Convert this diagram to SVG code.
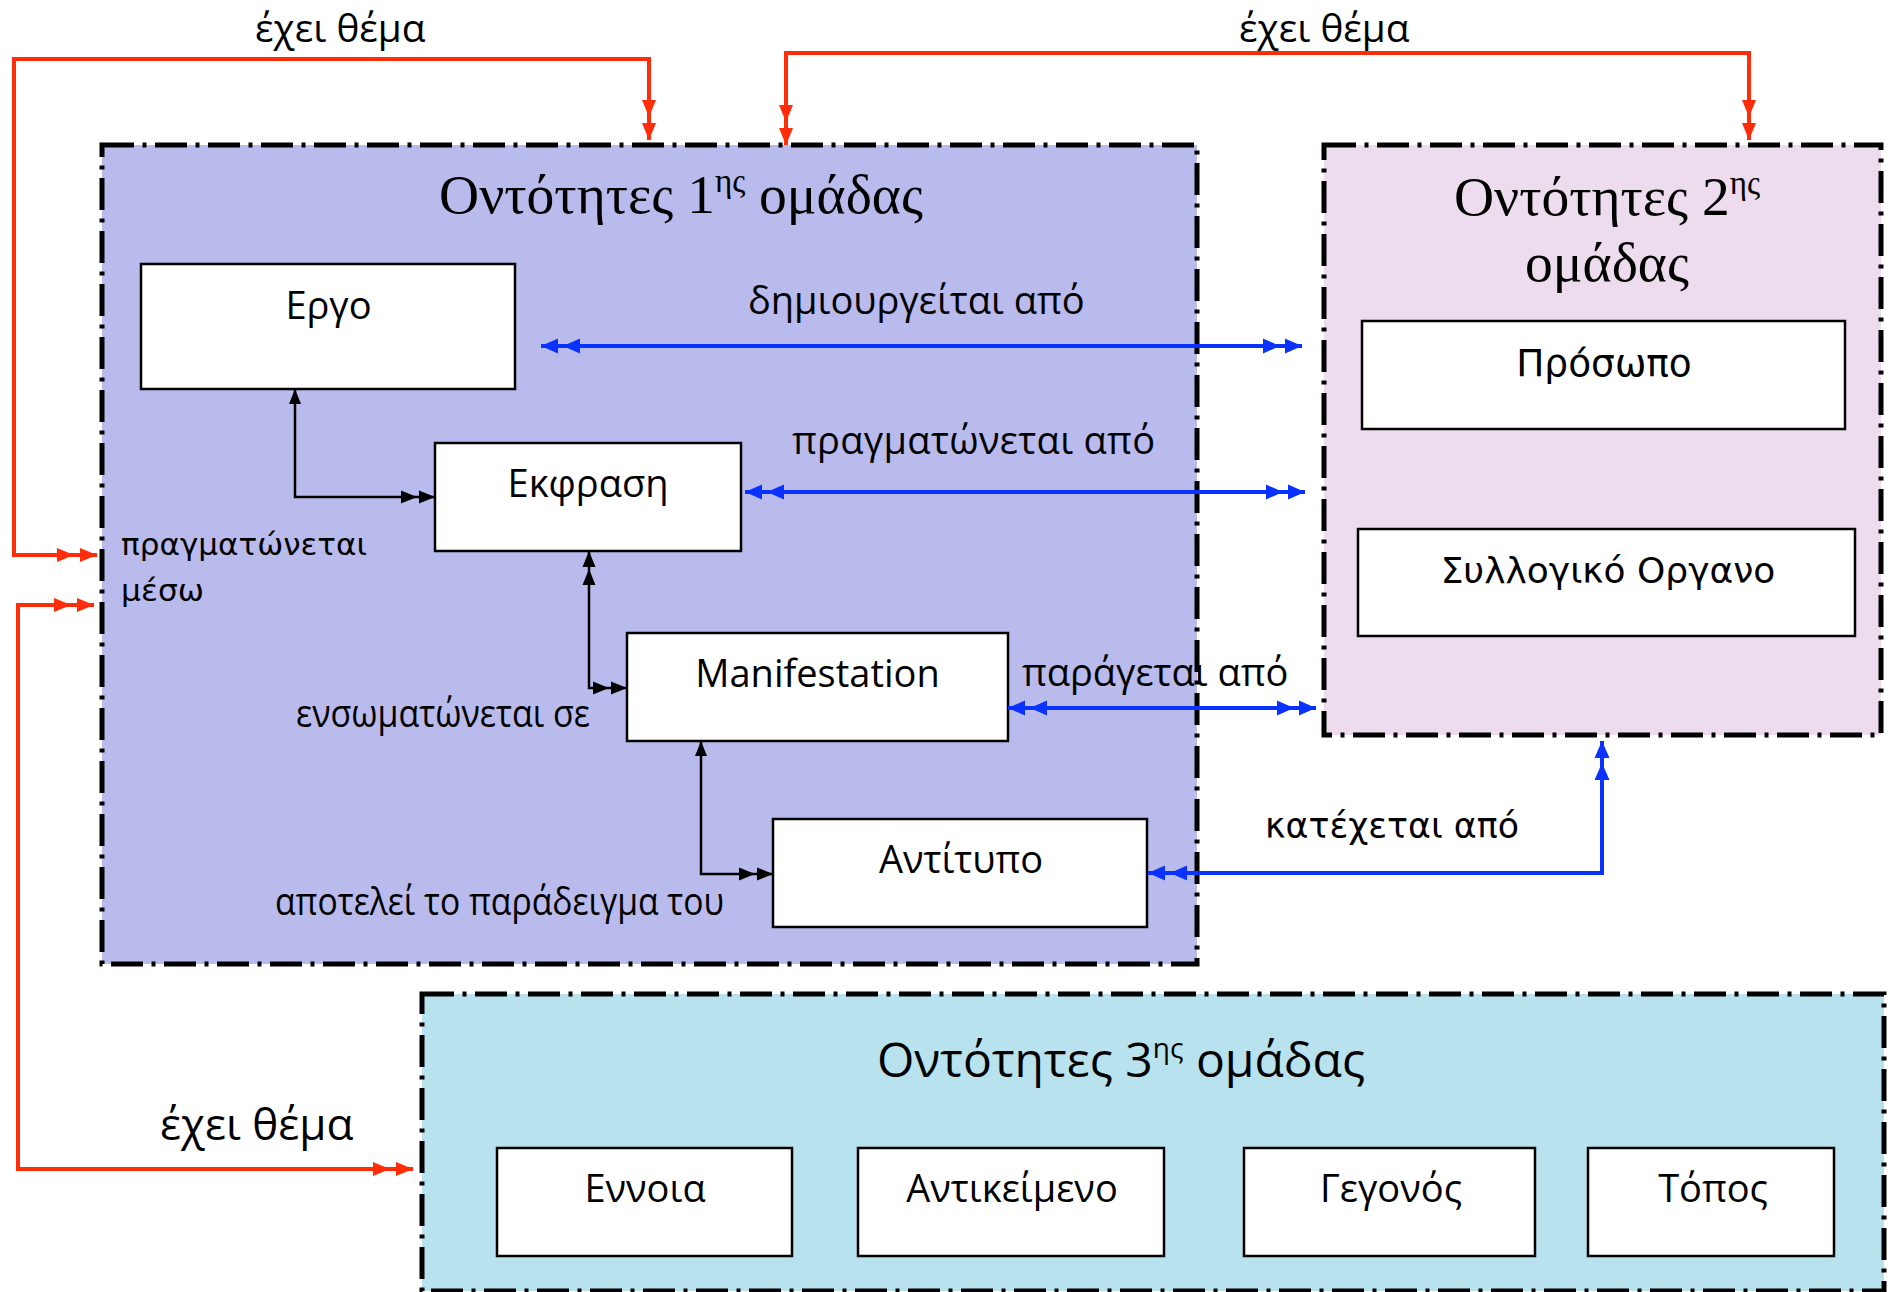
<svg xmlns="http://www.w3.org/2000/svg" width="1888" height="1292" viewBox="0 0 1888 1292">
<style>
.grp{stroke:#000;stroke-width:5;stroke-dasharray:32 8.5 4 8.5}
.node{fill:#fff;stroke:#000;stroke-width:2.5}
.serif{font-family:"Liberation Serif","DejaVu Serif",serif;font-size:55.5px;fill:#000}
.cal{font-family:"Open Sans","Noto Sans",sans-serif;font-size:38px;fill:#000}
.dv{font-family:"DejaVu Sans","Noto Sans",sans-serif;font-size:34px;fill:#000}
.mid{text-anchor:middle}
.red{fill:none;stroke:#FF2D0A;stroke-width:4;marker-start:url(#r2);marker-end:url(#r2)}
.blue{fill:none;stroke:#0A32FF;stroke-width:4;marker-start:url(#b2);marker-end:url(#b2)}
.blk{fill:none;stroke:#000;stroke-width:2.5}
</style>
<defs>
<marker id="r2" markerUnits="userSpaceOnUse" markerWidth="60" markerHeight="20" refX="17" refY="0" orient="auto-start-reverse" overflow="visible">
<path d="M0,-7 L17,0 L0,7 Z M-23,-7 L-6,0 L-23,7 Z" fill="#FF2D0A"/>
</marker>
<marker id="b2" markerUnits="userSpaceOnUse" markerWidth="60" markerHeight="20" refX="17" refY="0" orient="auto-start-reverse" overflow="visible">
<path d="M0,-7.5 L17,0 L0,7.5 Z M-22,-7.5 L-5,0 L-22,7.5 Z" fill="#0A32FF"/>
</marker>
<marker id="k1" markerUnits="userSpaceOnUse" markerWidth="30" markerHeight="20" refX="15" refY="0" orient="auto-start-reverse" overflow="visible">
<path d="M0,-6 L15,0 L0,6 Z" fill="#000"/>
</marker>
<marker id="k2" markerUnits="userSpaceOnUse" markerWidth="50" markerHeight="20" refX="16" refY="0" orient="auto-start-reverse" overflow="visible">
<path d="M0,-6.5 L16,0 L0,6.5 Z M-18,-6.5 L-2,0 L-18,6.5 Z" fill="#000"/>
</marker>
</defs>

<g id="group1">
<rect class="grp" x="102" y="145" width="1095" height="819" fill="#B9BBEC"/>
<text class="serif mid" x="681" y="213">Οντότητες 1<tspan font-size="33" dy="-21">ης</tspan><tspan dy="21"> ομάδας</tspan></text>
</g>
<g id="group2">
<rect class="grp" x="1324" y="145" width="557" height="590" fill="#ECDCEE"/>
<text class="serif mid" x="1607" y="215">Οντότητες 2<tspan font-size="33" dy="-21">ης</tspan></text>
<text class="serif mid" x="1607" y="281">ομάδας</text>
</g>
<g id="group3">
<rect class="grp" x="422" y="994" width="1462" height="297" fill="#B8E2EE"/>
<text class="cal" x="877" y="1077" style="font-size:48px">Οντότητες 3<tspan font-size="28" dy="-19">ης</tspan><tspan dy="19"> ομάδας</tspan></text>
</g>

<g id="node-ergo">
<rect class="node" x="141" y="264" width="374" height="125"/>
<text class="cal mid" x="328.5" y="319">Εργο</text>
</g>
<g id="node-ekfrasi">
<rect class="node" x="435" y="443" width="306" height="108"/>
<text class="cal mid" x="588" y="497">Εκφραση</text>
</g>
<g id="node-manifestation">
<rect class="node" x="627" y="633" width="381" height="108"/>
<text class="cal mid" x="817.5" y="687">Manifestation</text>
</g>
<g id="node-antitypo">
<rect class="node" x="773" y="819" width="374" height="108"/>
<text class="cal mid" x="961" y="873">Αντίτυπο</text>
</g>
<g id="node-prosopo">
<rect class="node" x="1362" y="321" width="483" height="108"/>
<text class="dv mid" x="1604" y="376" style="font-size:37.5px">Πρόσωπο</text>
</g>
<g id="node-syllogiko">
<rect class="node" x="1358" y="529" width="497" height="107"/>
<text class="dv mid" x="1608" y="583" style="font-size:36px">Συλλογικό Οργανο</text>
</g>
<g id="node-ennoia">
<rect class="node" x="497" y="1148" width="295" height="108"/>
<text class="cal mid" x="645" y="1202">Εννοια</text>
</g>
<g id="node-antikeimeno">
<rect class="node" x="858" y="1148" width="306" height="108"/>
<text class="cal mid" x="1012" y="1202">Αντικείμενο</text>
</g>
<g id="node-gegonos">
<rect class="node" x="1244" y="1148" width="291" height="108"/>
<text class="cal mid" x="1391" y="1202">Γεγονός</text>
</g>
<g id="node-topos">
<rect class="node" x="1588" y="1148" width="246" height="108"/>
<text class="cal mid" x="1713" y="1202">Τόπος</text>
</g>

<g id="connectors">
<path class="red" d="M97,555 L14,555 L14,59 L649,59 L649,140"/>
<path class="red" d="M786,145 L786,53 L1749,53 L1749,140"/>
<path class="red" d="M94,605 L18,605 L18,1169 L413,1169"/>
<path class="blue" d="M541,346 L1302,346"/>
<path class="blue" d="M745,492 L1305,492"/>
<path class="blue" d="M1008,708 L1316,708"/>
<path class="blue" d="M1148,873 L1602,873 L1602,741"/>
<path class="blk" d="M295,389 L295,497 L435,497" marker-start="url(#k1)" marker-end="url(#k2)"/>
<path class="blk" d="M589,551 L589,688 L627,688" marker-start="url(#k2)" marker-end="url(#k2)"/>
<path class="blk" d="M701,741 L701,874 L773,874" marker-start="url(#k1)" marker-end="url(#k2)"/>
</g>

<g id="labels">
<text class="cal" x="255" y="41.5" style="font-size:38.8px">έχει θέμα</text>
<text class="cal" x="1239" y="41.5" style="font-size:38.8px">έχει θέμα</text>
<text class="cal" x="160" y="1140" style="font-size:44px">έχει θέμα</text>
<text class="cal" x="748" y="314">δημιουργείται από</text>
<text class="cal" x="792" y="454" textLength="363">πραγματώνεται από</text>
<text class="cal" x="1022" y="686">παράγεται από</text>
<text class="cal" x="296" y="727" textLength="294" lengthAdjust="spacingAndGlyphs">ενσωματώνεται σε</text>
<text class="cal" x="275" y="915" textLength="449" lengthAdjust="spacingAndGlyphs">αποτελεί το παράδειγμα του</text>
<text class="dv" x="121" y="555" style="font-size:31px" textLength="246" lengthAdjust="spacingAndGlyphs">πραγματώνεται</text>
<text class="dv" x="121" y="601" style="font-size:31px" textLength="83" lengthAdjust="spacingAndGlyphs">μέσω</text>
<text class="dv" x="1265" y="838" style="font-size:34.8px">κατέχεται από</text>
</g>
</svg>
